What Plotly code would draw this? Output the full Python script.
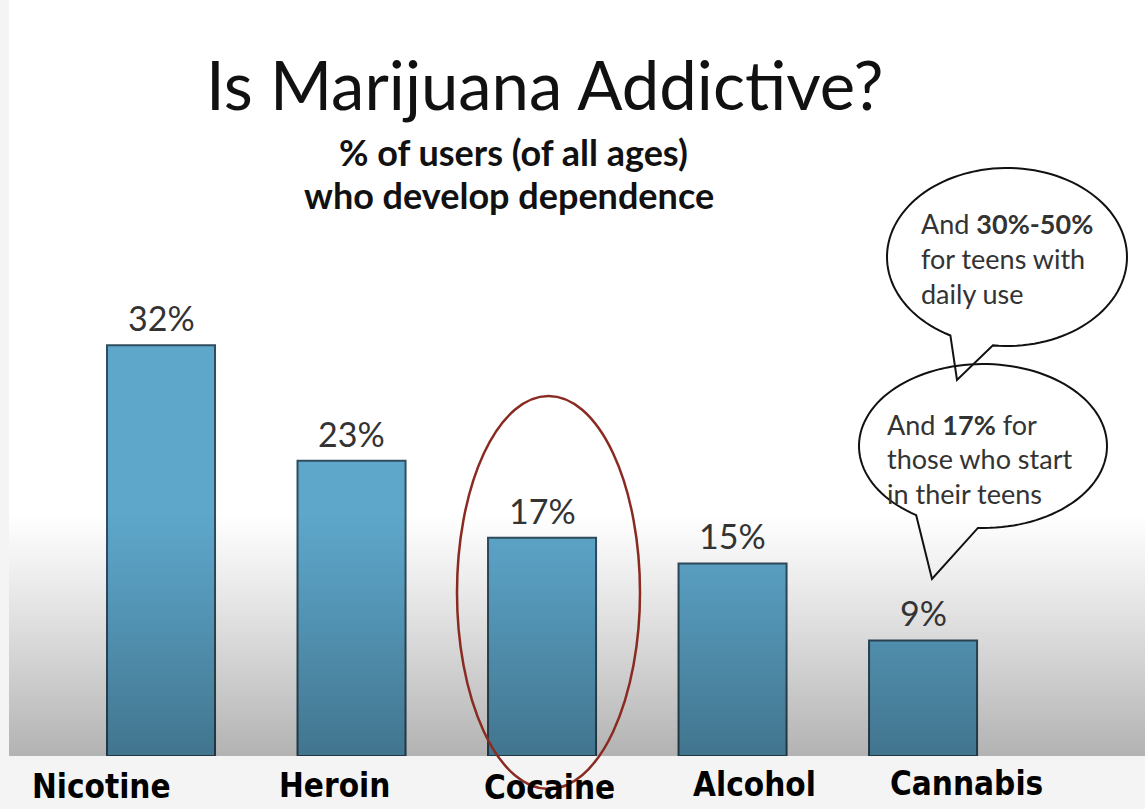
import numpy as np
import plotly.graph_objects as go

# ---------------- data ----------------
categories = ["Nicotine", "Heroin", "Cocaine", "Alcohol", "Cannabis"]
values = [32, 23, 17, 15, 9]
value_labels = ["32%", "23%", "17%", "15%", "9%"]
title_text = "Is Marijuana Addictive?"
subtitle_lines = ["% of users (of all ages)", "who develop dependence"]
bubble1_lines = ["And <b>30%-50%</b>", "for teens with", "daily use"]
bubble2_lines = ["And <b>17%</b> for", "those who start", "in their teens"]

# ---------------- layout geometry (pixels) ----------------
W, H = 1145, 809
L, R, T, B = 9, 0, 0, 53
PW, PH = W - L - R, H - T - B


def px(x):
    return (x - L) / PW


def py(y):
    return (H - B - y) / PH


BODY_FONT = "Lato"
fig = go.Figure()

fig.add_trace(go.Bar(
    x=list(range(len(categories))),
    y=values,
    width=0.567,
    marker=dict(color="#5ea7cb", line=dict(color="#2f4d5e", width=2)),
    hoverinfo="skip",
))

annotations = []
# value labels
for i, (v, lab) in enumerate(zip(values, value_labels)):
    annotations.append(dict(x=i, y=v, xref="x", yref="y", text=lab, showarrow=False,
                            yanchor="bottom", yshift=5,
                            font=dict(family=BODY_FONT, size=34, color="#333333")))

# category labels (positioned under bars, slightly offset as in the slide)
label_xshift = [-60, -17, 7, 22, 43]
label_y = [786, 785, 787, 784, 783]
for i, (c, dx, yy) in enumerate(zip(categories, label_xshift, label_y)):
    annotations.append(dict(x=i, y=py(yy), xref="x", yref="paper", text=f"<b>{c}</b>",
                            showarrow=False, xshift=dx, yanchor="middle",
                            font=dict(family="DejaVu Sans Condensed", size=33, color="#000000")))

# title & subtitle
annotations.append(dict(x=px(545), y=py(84), xref="paper", yref="paper", text=title_text,
                        showarrow=False, yanchor="middle",
                        font=dict(family=BODY_FONT, size=67, color="#111111")))
for k, line in enumerate(subtitle_lines):
    annotations.append(dict(x=px(513 if k == 0 else 509), y=py(152 + 43 * k), xref="paper", yref="paper",
                            text=f"<b>{line}</b>", showarrow=False, yanchor="middle",
                            font=dict(family=BODY_FONT, size=36, color="#111111")))

# bubble texts
for k, line in enumerate(bubble1_lines):
    annotations.append(dict(x=px(919), y=py(223 + 35 * k), xref="paper", yref="paper", text=line,
                            showarrow=False, xanchor="left", yanchor="middle",
                            font=dict(family=BODY_FONT, size=27, color="#333333")))
for k, line in enumerate(bubble2_lines):
    annotations.append(dict(x=px(885), y=py(424 + 34.5 * k), xref="paper", yref="paper", text=line,
                            showarrow=False, xanchor="left", yanchor="middle",
                            font=dict(family=BODY_FONT, size=27, color="#333333")))

shapes = []
# bottom darkening gradient
y_start, y_end, n = 512, 756, 61
edges = np.linspace(y_start, y_end, n + 1)
for j in range(n):
    a = 0.30 * ((j + 0.5) / n) ** 1.1
    shapes.append(dict(type="rect", xref="paper", yref="paper", x0=0, x1=1,
                       y0=py(edges[j + 1]), y1=py(edges[j]), line=dict(width=0),
                       fillcolor=f"rgba(0,0,0,{a:.4f})", layer="above"))

# red ellipse around Cocaine
shapes.append(dict(type="circle", xref="paper", yref="paper",
                   x0=px(457), x1=px(640), y0=py(789), y1=py(396),
                   line=dict(color="#8a2b22", width=2.5), layer="above"))


def bubble(cx, cy, rx, ry, a1, a2, tip):
    t1 = np.arctan2((a1[1] - cy) / ry, (a1[0] - cx) / rx)
    t2 = np.arctan2((a2[1] - cy) / ry, (a2[0] - cx) / rx)
    if t2 < t1:
        t2 += 2 * np.pi
    ts = np.linspace(t1, t2, 120)
    pts = [(cx + rx * np.cos(t), cy + ry * np.sin(t)) for t in ts]
    pts.append(tip)
    d = "M " + " L ".join(f"{px(x):.5f},{py(y):.5f}" for x, y in pts) + " Z"
    return dict(type="path", xref="paper", yref="paper", path=d,
                line=dict(color="#111111", width=2), layer="above")


shapes.append(bubble(1007, 257, 120, 89, (950, 336), (993, 345), (957, 380)))
shapes.append(bubble(983, 446, 124, 82, (922, 509), (978, 527), (932, 579)))

fig.update_layout(
    width=W, height=H,
    margin=dict(l=L, r=R, t=T, b=B, pad=0),
    paper_bgcolor="#f4f4f4",
    plot_bgcolor="#ffffff",
    showlegend=False,
    xaxis=dict(range=[-0.798, 5.165], visible=False, fixedrange=True),
    yaxis=dict(range=[0, 58.9], visible=False, fixedrange=True),
    annotations=annotations,
    shapes=shapes,
)

fig.write_html("out.html")
